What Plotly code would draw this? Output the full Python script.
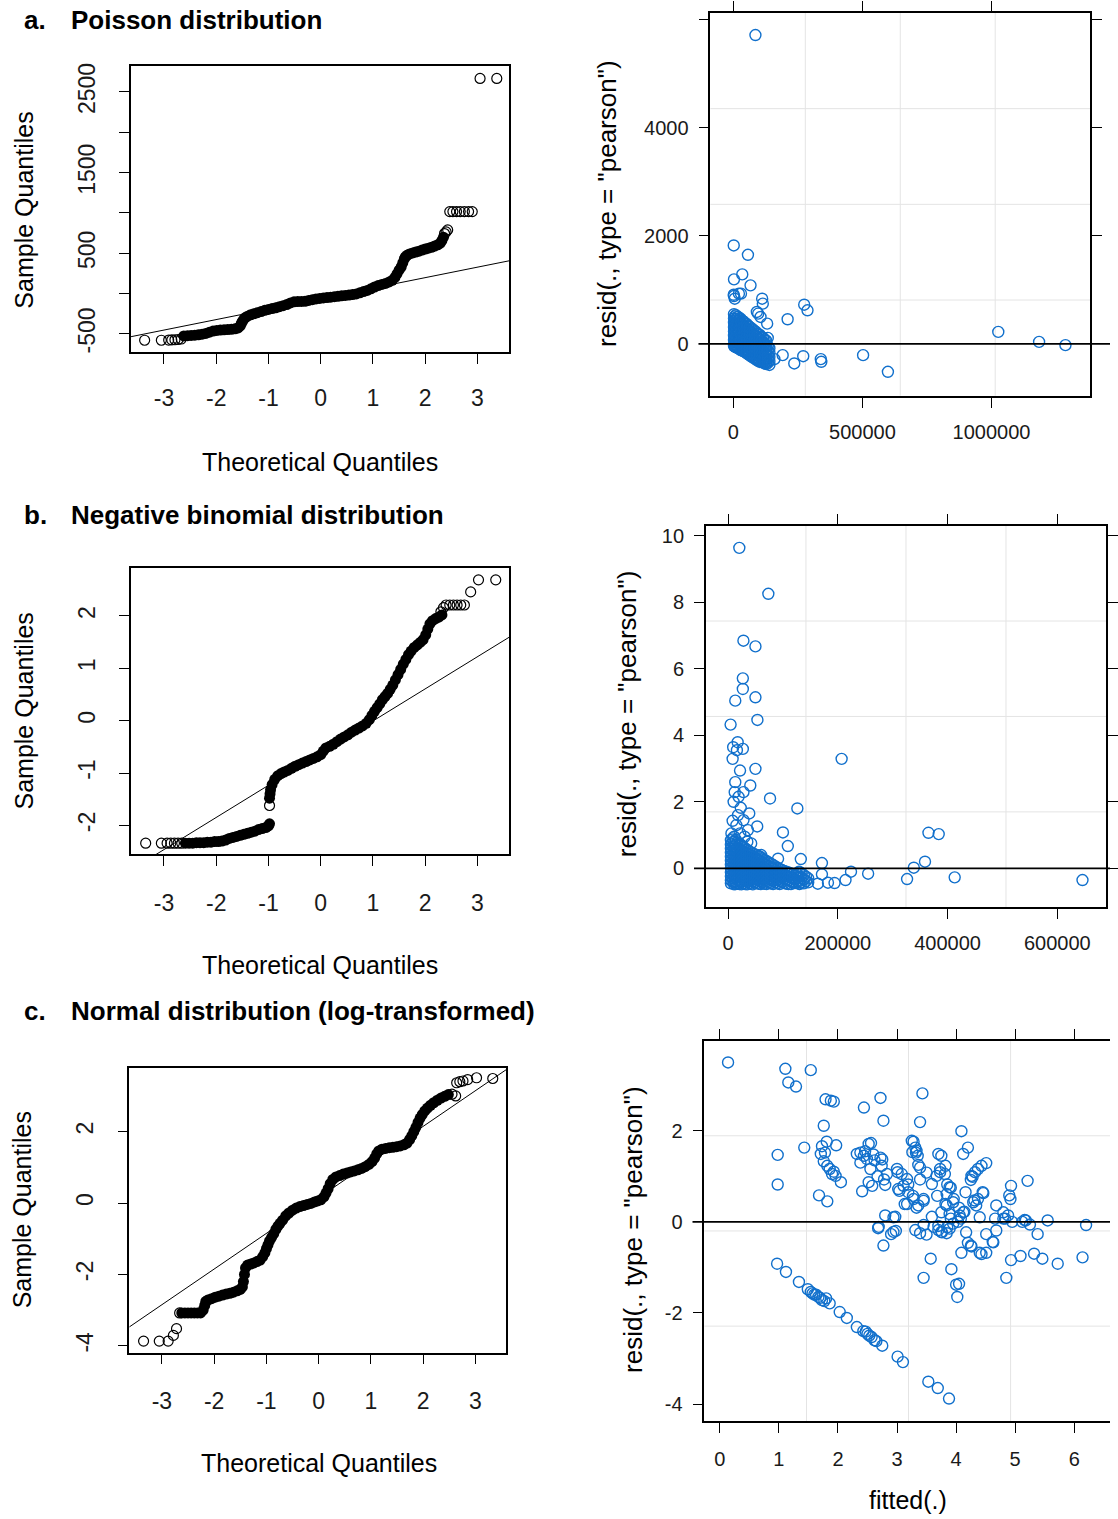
import plotly.graph_objects as go

W, H = 1118, 1519
FONT = "Liberation Sans, Arial, Helvetica, sans-serif"
BLUE = "#1170cc"
INK = "#1a1a1a"

# ======================= DATA =======================
qq_x_ticks = [-3, -2, -1, 0, 1, 2, 3]

# ---- a. Poisson distribution : normal Q-Q plot ----
qq_a_dense_x = [-2.62, -2.55, -2.48, -2.41, -2.34, -2.27, -2.20, -2.13, -2.06, -1.99,
                -1.92, -1.85, -1.78, -1.71, -1.64, -1.58, -1.54, -1.52, -1.50, -1.47,
                -1.44, -1.40, -1.34, -1.28, -1.21, -1.14, -1.07, -1.00, -0.93, -0.86,
                -0.79, -0.72, -0.65, -0.58, -0.51, -0.44, -0.37, -0.30, -0.23, -0.16,
                -0.09, -0.02, 0.05, 0.12, 0.19, 0.26, 0.33, 0.40, 0.47, 0.54,
                0.61, 0.68, 0.75, 0.82, 0.89, 0.96, 1.03, 1.10, 1.17, 1.24,
                1.31, 1.37, 1.42, 1.46, 1.50, 1.54, 1.57, 1.60, 1.62, 1.65,
                1.70, 1.76, 1.82, 1.88, 1.94, 2.00, 2.06, 2.12, 2.18, 2.24,
                2.29, 2.32, 2.35]
qq_a_dense_y = [-525, -522, -519, -516, -510, -503, -494, -478, -464, -456,
                -452, -449, -446, -442, -437, -425, -400, -370, -345, -315,
                -295, -280, -262, -250, -237, -222, -207, -196, -186, -176,
                -162, -150, -136, -115, -102, -99, -97, -95, -85, -75,
                -66, -60, -54, -48, -44, -38, -33, -28, -23, -17,
                -11, -4, 10, 25, 40, 60, 82, 100, 114, 126,
                145, 165, 200, 245, 290, 330, 380, 430, 455, 475,
                492, 505, 516, 526, 540, 552, 563, 575, 590, 605,
                625, 660, 700]
qq_a_sparse = [(-3.37, -578), (-3.05, -578), (-2.91, -576), (-2.85, -574), (-2.79, -572),
               (-2.73, -569), (-2.67, -563), (2.37, 745), (2.40, 765), (2.43, 790),
               (2.47, 1017), (2.53, 1017), (2.60, 1017), (2.67, 1017), (2.75, 1017),
               (2.83, 1017), (2.90, 1017), (3.05, 2668), (3.37, 2668)]
qq_a_line = (-62.0, 130.0)            # intercept, slope of qqline
qq_a_yticks = [-500, 0, 500, 1000, 1500, 2000, 2500]
qq_a_ylabels = ["-500", "", "500", "", "1500", "", "2500"]

# ---- b. Negative binomial distribution : normal Q-Q plot ----
qq_b_dense_x = [-2.59, -2.52, -2.45, -2.38, -2.31, -2.24, -2.17, -2.10, -2.03, -1.96,
                -1.89, -1.82, -1.75, -1.68, -1.61, -1.54, -1.47, -1.40, -1.33, -1.26,
                -1.19, -1.12, -1.05, -1.00, -0.98,
                -0.98, -0.97, -0.96, -0.93, -0.88, -0.82, -0.76, -0.70, -0.63, -0.56,
                -0.49, -0.42, -0.35, -0.28, -0.21, -0.14, -0.07, 0.00, 0.05, 0.10,
                0.17, 0.24, 0.31, 0.38, 0.45, 0.52, 0.59, 0.66, 0.73, 0.80,
                0.87, 0.93, 0.98, 1.03, 1.08, 1.13, 1.18, 1.23, 1.28, 1.33,
                1.38, 1.43, 1.48, 1.53, 1.58, 1.63, 1.68, 1.73, 1.79, 1.85,
                1.91, 1.96, 2.01, 2.05, 2.09, 2.14, 2.20, 2.26, 2.32]
qq_b_dense_y = [-2.34, -2.34, -2.34, -2.33, -2.33, -2.33, -2.32, -2.32, -2.31, -2.31,
                -2.30, -2.28, -2.25, -2.23, -2.21, -2.19, -2.17, -2.15, -2.13, -2.11,
                -2.08, -2.06, -2.04, -2.01, -1.97,
                -1.48, -1.40, -1.32, -1.22, -1.12, -1.05, -1.01, -0.98, -0.95, -0.91,
                -0.87, -0.84, -0.81, -0.78, -0.75, -0.72, -0.69, -0.65, -0.58, -0.52,
                -0.49, -0.45, -0.40, -0.35, -0.31, -0.27, -0.22, -0.18, -0.14, -0.10,
                -0.05, 0.02, 0.10, 0.18, 0.25, 0.32, 0.40, 0.46, 0.52, 0.60,
                0.68, 0.78, 0.88, 0.98, 1.08, 1.17, 1.26, 1.33, 1.40, 1.45,
                1.50, 1.55, 1.64, 1.75, 1.85, 1.91, 1.95, 1.98, 2.02]
qq_b_sparse = [(-3.35, -2.34), (-3.05, -2.34), (-2.94, -2.34), (-2.87, -2.34), (-2.80, -2.34),
               (-2.73, -2.34), (-2.66, -2.34), (-0.98, -1.62), (2.30, 2.08), (2.35, 2.16),
               (2.40, 2.21), (2.47, 2.21), (2.54, 2.21), (2.61, 2.21), (2.68, 2.21),
               (2.75, 2.21), (2.87, 2.46), (3.02, 2.69), (3.35, 2.69)]
qq_b_line = (-0.62, 0.614)
qq_b_yticks = [-2, -1, 0, 1, 2]

# ---- c. Normal distribution (log-transformed) : normal Q-Q plot ----
qq_c_dense_x = [-2.62, -2.56, -2.50, -2.44, -2.38, -2.32, -2.26, -2.21, -2.18, -2.16,
                -2.12, -2.05, -1.98, -1.91, -1.84, -1.77, -1.70, -1.63, -1.56, -1.50,
                -1.46, -1.44, -1.42, -1.40, -1.36, -1.30, -1.24, -1.18, -1.12, -1.07,
                -1.03, -1.00, -0.97, -0.94, -0.90, -0.86, -0.82, -0.78, -0.74, -0.69,
                -0.63, -0.57, -0.50, -0.43, -0.36, -0.29, -0.22, -0.15, -0.08, -0.02,
                0.04, 0.10, 0.14, 0.18, 0.22, 0.27, 0.33, 0.40, 0.47, 0.54,
                0.61, 0.68, 0.75, 0.82, 0.89, 0.96, 1.02, 1.07, 1.11, 1.15,
                1.21, 1.28, 1.35, 1.42, 1.49, 1.56, 1.63, 1.69, 1.74, 1.78,
                1.82, 1.86, 1.90, 1.94, 1.98, 2.03, 2.08, 2.14, 2.20, 2.27,
                2.34, 2.41, 2.48]
qq_c_dense_y = [-3.08, -3.08, -3.08, -3.08, -3.08, -3.08, -3.08, -3.00, -2.87, -2.76,
                -2.72, -2.68, -2.64, -2.61, -2.58, -2.55, -2.53, -2.50, -2.46, -2.42,
                -2.35, -2.20, -2.00, -1.82, -1.74, -1.71, -1.68, -1.64, -1.60, -1.50,
                -1.40, -1.28, -1.17, -1.06, -0.96, -0.86, -0.74, -0.65, -0.57, -0.48,
                -0.36, -0.28, -0.20, -0.14, -0.10, -0.07, -0.04, -0.01, 0.03, 0.06,
                0.09, 0.17, 0.28, 0.40, 0.54, 0.66, 0.73, 0.77, 0.81, 0.84,
                0.87, 0.90, 0.93, 0.97, 1.02, 1.08, 1.16, 1.26, 1.38, 1.46,
                1.51, 1.53, 1.55, 1.56, 1.58, 1.60, 1.63, 1.68, 1.78, 1.88,
                2.00, 2.12, 2.26, 2.38, 2.48, 2.58, 2.66, 2.74, 2.81, 2.88,
                2.94, 2.99, 3.04]
qq_c_sparse = [(-3.35, -3.87), (-3.05, -3.87), (-2.88, -3.87), (-2.78, -3.71), (-2.72, -3.52),
               (-2.66, -3.08), (2.55, 3.05), (2.62, 3.00), (2.64, 3.37), (2.70, 3.40),
               (2.76, 3.42), (2.85, 3.46), (3.02, 3.51), (3.33, 3.49)]
qq_c_line = (0.15, 1.0)
qq_c_yticks = [-4, -2, 0, 2]

# ---- a. Poisson: resid(., type = "pearson") vs fitted ----
res_a_points = [(86000, 5720), (2000, 1823), (57000, 1650), (3000, 1195), (35000, 1287),
                (67000, 1084), (3000, 886), (22000, 929), (6000, 837), (2000, 910),
                (30000, 930), (112000, 837), (114500, 745), (91500, 591), (96500, 560),
                (105700, 499), (274800, 726), (287500, 622), (210600, 456), (131400, 375),
                (133700, 111), (191400, -209), (159500, -283), (236300, -363), (271000, -228),
                (339000, -283), (341000, -332), (502700, -209), (598800, -517),
                (1026000, 222), (1184000, 37), (1286000, -24)]
res_a_cluster = [(3000, [550, 470, 390, 310, 230, 150, 70, -10, -40]),
                 (6500, [510, 430, 350, 270, 190, 110, 30, -45]),
                 (10000, [530, 455, 375, 300, 215, 140, 60, -20, -65]),
                 (14500, [495, 415, 340, 260, 180, 100, 20, -60]),
                 (19000, [500, 425, 350, 265, 190, 105, 30, -50, -85]),
                 (24000, [470, 390, 310, 225, 150, 70, -10, -90]),
                 (29000, [465, 390, 305, 230, 150, 70, -15, -90, -115]),
                 (34500, [430, 350, 270, 190, 110, 30, -50, -125]),
                 (40000, [415, 340, 260, 175, 100, 20, -60, -135]),
                 (46000, [380, 300, 220, 140, 60, -20, -100, -155]),
                 (52000, [370, 290, 205, 130, 45, -30, -110, -170]),
                 (58000, [335, 255, 175, 95, 15, -65, -140, -195]),
                 (64000, [315, 240, 160, 80, 0, -85, -160, -215]),
                 (70500, [285, 205, 125, 45, -35, -115, -190, -235]),
                 (77000, [265, 185, 110, 25, -50, -135, -210, -255]),
                 (83500, [235, 155, 75, -5, -85, -165, -240, -275]),
                 (90000, [215, 140, 55, -20, -105, -180, -260, -295]),
                 (96500, [185, 105, 25, -55, -135, -215, -290, -315]),
                 (103000, [165, 90, 10, -75, -150, -230, -310, -335]),
                 (109500, [130, 50, -30, -110, -190, -270, -330]),
                 (116000, [110, 30, -50, -130, -215, -290, -345]),
                 (122000, [80, 0, -80, -160, -240, -320, -360]),
                 (128000, [60, -20, -105, -180, -265, -340, -375]),
                 (134000, [-40, -120, -200, -280, -350]),
                 (140000, [-80, -160, -245, -320, -390])]
res_a_xticks = [0, 500000, 1000000]
res_a_yticks = [0, 2000, 4000, 6000]
res_a_ylabels = ["0", "2000", "4000", ""]

# ---- b. Negative binomial: resid vs fitted ----
res_b_points = [(20400, 9.63), (73300, 8.25), (27900, 6.84), (49800, 6.67), (26800, 5.71),
                (26800, 5.39), (13000, 5.04), (49800, 5.14), (53400, 4.46), (4500, 4.32),
                (9200, 3.64), (17400, 3.79), (26800, 3.59), (8200, 3.29), (206900, 3.29),
                (21700, 2.94), (49800, 2.99), (13000, 2.59), (40400, 2.49), (27900, 2.29),
                (12000, 2.29), (76400, 2.10), (126200, 1.80), (23000, 1.82), (38500, 1.65),
                (8200, 1.43), (53000, 1.26), (36000, 1.15), (99900, 1.08), (108800, 0.67),
                (365200, 1.07), (383900, 1.03), (358900, 0.20), (338500, 0.02), (326200, -0.32),
                (413000, -0.27), (646000, -0.35), (255200, -0.16), (224000, -0.10), (214000, -0.35),
                (194000, -0.44), (171000, 0.16), (171000, -0.18), (163500, -0.46), (182000, -0.43),
                (132500, 0.28), (129400, -0.10), (91000, 0.29), (60300, 0.40), (114600, -0.47),
                (129600, -0.45), (16000, 3.55), (6000, 1.05), (15000, 1.30), (22000, 1.05),
                (30000, 0.95), (18000, 1.60), (35000, 0.80), (28000, 1.45), (42000, 0.75),
                (10000, 2.00), (19000, 2.15)]
res_b_cluster = [(5000, [0.85, 0.72, 0.60, 0.48, 0.36, 0.24, 0.12, 0.00, -0.12, -0.24, -0.36, -0.45]),
                 (8000, [0.90, 0.78, 0.66, 0.54, 0.42, 0.30, 0.18, 0.06, -0.06, -0.18, -0.30, -0.40]),
                 (11000, [0.95, 0.80, 0.66, 0.54, 0.42, 0.30, 0.18, 0.06, -0.06, -0.18, -0.30, -0.42, -0.48]),
                 (14000, [0.86, 0.70, 0.56, 0.44, 0.32, 0.20, 0.08, -0.04, -0.16, -0.28, -0.40, -0.47]),
                 (17000, [0.78, 0.62, 0.50, 0.38, 0.26, 0.14, 0.02, -0.10, -0.22, -0.34, -0.46]),
                 (20500, [0.74, 0.58, 0.46, 0.34, 0.22, 0.10, -0.02, -0.14, -0.26, -0.38, -0.47]),
                 (24000, [0.70, 0.55, 0.44, 0.32, 0.20, 0.08, -0.04, -0.16, -0.28, -0.40, -0.48]),
                 (27500, [0.65, 0.50, 0.38, 0.26, 0.14, 0.02, -0.10, -0.22, -0.34, -0.45]),
                 (31000, [0.60, 0.47, 0.35, 0.23, 0.11, -0.01, -0.13, -0.25, -0.37, -0.47]),
                 (34500, [0.56, 0.44, 0.32, 0.20, 0.08, -0.04, -0.16, -0.28, -0.40, -0.48]),
                 (38000, [0.52, 0.40, 0.28, 0.16, 0.04, -0.08, -0.20, -0.32, -0.44]),
                 (41500, [0.48, 0.36, 0.24, 0.12, 0.00, -0.12, -0.24, -0.36, -0.46]),
                 (45000, [0.45, 0.33, 0.21, 0.09, -0.03, -0.15, -0.27, -0.39, -0.48]),
                 (48500, [0.42, 0.30, 0.18, 0.06, -0.06, -0.18, -0.30, -0.42]),
                 (52000, [0.40, 0.28, 0.16, 0.04, -0.08, -0.20, -0.32, -0.44]),
                 (55500, [0.37, 0.25, 0.13, 0.01, -0.11, -0.23, -0.35, -0.46]),
                 (59000, [0.34, 0.22, 0.10, -0.02, -0.14, -0.26, -0.38, -0.47]),
                 (62500, [0.30, 0.18, 0.06, -0.06, -0.18, -0.30, -0.42]),
                 (66000, [0.25, 0.13, 0.01, -0.11, -0.23, -0.35, -0.46]),
                 (70000, [0.22, 0.10, -0.02, -0.14, -0.26, -0.38, -0.47]),
                 (74000, [0.18, 0.06, -0.06, -0.18, -0.30, -0.42]),
                 (78000, [0.14, 0.02, -0.10, -0.22, -0.34, -0.45]),
                 (82000, [0.10, -0.02, -0.14, -0.26, -0.38, -0.47]),
                 (86000, [0.06, -0.06, -0.18, -0.30, -0.42]),
                 (90000, [0.02, -0.10, -0.22, -0.34, -0.45]),
                 (94000, [-0.02, -0.14, -0.26, -0.38, -0.47]),
                 (98000, [-0.05, -0.17, -0.29, -0.41]),
                 (102000, [-0.08, -0.20, -0.32, -0.44]),
                 (106000, [-0.10, -0.22, -0.34, -0.46]),
                 (110000, [-0.12, -0.24, -0.36, -0.47]),
                 (114000, [-0.15, -0.27, -0.39]),
                 (118000, [-0.18, -0.30, -0.42]),
                 (122000, [-0.20, -0.32, -0.44]),
                 (126000, [-0.16, -0.28, -0.40]),
                 (130000, [-0.12, -0.25, -0.38, -0.47]),
                 (134000, [-0.16, -0.29, -0.42]),
                 (138000, [-0.20, -0.33, -0.45]),
                 (142000, [-0.25, -0.38]),
                 (146000, [-0.30, -0.42])]
res_b_xticks = [0, 200000, 400000, 600000]
res_b_yticks = [0, 2, 4, 6, 8, 10]

# ---- c. Normal (log): resid vs fitted ----
res_c_points = [
    (0.14, 3.50), (1.11, 3.36), (1.54, 3.33), (1.16, 3.06), (1.29, 2.97), (1.79, 2.69), (1.88, 2.66),
    (1.93, 2.64), (1.76, 2.11), (1.43, 1.63), (0.98, 1.47), (0.98, 0.82),
    (1.71, 1.49), (1.78, 1.52), (1.81, 1.76), (1.73, 1.66), (1.97, 1.68), (1.82, 1.23), (1.86, 1.16),
    (1.90, 1.05), (1.96, 1.01), (2.05, 0.87), (1.68, 0.58), (1.82, 0.45), (1.76, 1.33), (1.93, 1.10),
    (2.44, 2.51), (2.72, 2.72), (2.77, 2.22), (2.32, 1.49), (2.38, 1.52), (2.44, 1.45), (2.52, 1.71),
    (2.49, 1.38), (2.72, 1.41), (2.74, 1.23), (2.38, 1.30), (2.55, 1.16), (2.52, 0.87), (2.41, 0.67),
    (2.58, 0.79), (2.83, 1.05), (2.80, 0.81), (2.56, 1.73), (2.46, 1.55), (2.62, 1.35), (2.67, 1.00),
    (2.60, 1.48), (2.75, 1.37), (2.78, 0.93), (3.01, 1.09), (3.04, 0.68), (3.13, 0.39), (2.80, 0.14),
    (2.97, 0.11), (2.68, -0.14), (2.90, -0.27), (2.98, -0.20), (2.77, -0.52), (2.94, -0.22),
    (2.69, -0.11), (2.94, 0.10),
    (3.43, 2.82), (3.39, 2.19), (3.28, 1.76), (3.25, 1.78), (3.31, 1.63), (3.32, 1.52), (3.35, 1.45),
    (3.33, 1.56), (3.26, 1.53), (3.00, 1.16), (3.08, 1.05), (3.17, 0.94), (3.02, 0.72), (3.11, 0.79),
    (3.19, 0.65), (3.28, 0.50), (3.17, 0.39), (3.36, 0.36), (3.45, 0.50), (3.39, 1.19), (3.50, 1.08),
    (3.36, 1.25), (3.39, 0.93), (3.19, 0.82), (3.27, 0.57), (3.33, 0.31), (3.45, 0.46), (3.31, -0.18),
    (3.39, -0.25), (3.50, -0.28), (3.45, -0.07), (3.57, -0.81), (3.45, -1.23),
    (3.59, 0.83), (3.67, 1.01), (3.70, 1.49), (3.75, 1.45), (3.73, 1.16), (3.81, 1.05), (3.89, 0.76),
    (3.84, 0.61), (3.95, 0.43), (3.84, 0.36), (3.75, 0.21), (3.89, 0.17), (4.06, 0.14), (4.12, 0.21),
    (3.73, 1.09), (3.82, 1.23), (3.85, 0.82), (3.91, 0.75), (3.68, 0.57), (3.82, 0.39), (3.96, 0.50),
    (3.59, 0.11), (3.70, -0.09), (3.76, -0.23), (3.85, -0.12), (3.91, 0.07), (3.62, -0.11),
    (3.70, -0.18), (3.75, -0.22), (3.84, -0.25), (3.89, -0.15), (3.95, -0.04), (4.03, 0.00),
    (3.92, -1.04), (4.00, -1.38), (4.05, -1.36), (4.02, -1.65),
    (4.09, 1.99), (4.12, 1.49), (4.20, 1.63), (4.16, 0.65), (4.29, 0.43), (4.34, 0.36), (4.40, 0.10),
    (4.26, 1.01), (4.32, 1.09), (4.37, 1.16), (4.43, 1.23), (4.51, 1.29), (4.45, 0.65), (4.08, 0.07),
    (4.14, 0.22), (4.05, 0.31), (4.28, 0.99), (4.25, 0.92), (4.31, 0.47), (4.46, 0.63), (4.37, 0.50),
    (4.17, -0.23), (4.25, -0.52), (4.51, -0.27), (4.20, -0.46), (4.26, -0.54), (4.40, -0.68),
    (4.51, -0.68), (4.62, -0.44), (4.43, -0.71), (4.09, -0.68),
    (4.68, 0.36), (4.80, 0.21), (4.88, 0.14), (4.93, 0.79), (4.90, 0.58), (4.66, 0.07), (4.83, 0.07),
    (4.92, 0.50), (4.95, 0.00), (5.12, 0.00), (5.18, 0.03), (5.25, -0.06), (5.21, 0.90), (5.55, 0.03),
    (5.38, -0.27), (4.68, -0.19), (4.63, -0.45), (4.85, -1.23), (4.93, -0.84), (5.09, -0.75),
    (5.32, -0.70), (5.46, -0.81), (5.72, -0.92), (4.80, 0.07), (5.16, 0.04),
    (6.14, -0.78), (6.20, -0.07),
    (0.97, -0.92), (1.12, -1.10), (1.34, -1.32), (1.49, -1.48), (1.54, -1.54), (1.57, -1.57),
    (1.60, -1.60), (1.63, -1.60), (1.67, -1.65), (1.70, -1.67), (1.73, -1.72), (1.77, -1.74),
    (1.80, -1.68), (1.86, -1.79), (2.03, -1.98), (2.15, -2.11), (2.32, -2.31), (2.43, -2.40),
    (2.47, -2.41), (2.50, -2.46), (2.53, -2.50), (2.57, -2.53), (2.62, -2.60), (2.65, -2.62),
    (2.75, -2.72), (3.01, -2.96), (3.10, -3.08), (3.53, -3.51), (3.69, -3.65), (3.88, -3.88)]
res_c_xticks = [0, 1, 2, 3, 4, 5, 6]
res_c_yticks = [-4, -2, 0, 2]
res_c_panel_xlim = [-0.26, 6.65]   # full lattice panel limits (right edge cut off)

# ======================= LAYOUT GEOMETRY (pixels) =======================
def fx(p):
    return p / W


def fy(p):
    return 1 - p / H


panels = {
    1: dict(x=[fx(132), fx(513)], y=[fy(350), fy(63.3)], xr=[-3.63, 3.61], yr=[-722, 2821]),
    2: dict(x=[fx(715.5), fx(1098)], y=[fy(394), fy(10)], xr=[-88400, 1381600], yr=[-960, 6129]),
    3: dict(x=[fx(132), fx(513)], y=[fy(854), fy(566.7)], xr=[-3.63, 3.61], yr=[-2.55, 2.92]),
    4: dict(x=[fx(711), fx(1114)], y=[fy(907.3), fy(524.3)], xr=[-40500, 688900], yr=[-1.17, 10.30]),
    5: dict(x=[fx(130.4), fx(510)], y=[fy(1354), fy(1068.3)], xr=[-3.62, 3.59], yr=[-4.19, 3.79]),
    6: dict(x=[fx(709.5), 1.0], y=[fy(1423), fy(1041)], xr=[-0.26, 6.605], yr=[-4.38, 3.98]),
}

fig = go.Figure()


def ax_name(letter, i):
    return letter + ("" if i == 1 else str(i))


def add_qq(i, dx, dy, sparse, line):
    xa, ya = ax_name("x", i), ax_name("y", i)
    fig.add_trace(go.Scatter(x=dx, y=dy, mode="markers", xaxis=xa, yaxis=ya,
                             marker=dict(symbol="circle", size=11, color="black",
                                         line=dict(width=0))))
    fig.add_trace(go.Scatter(x=[p[0] for p in sparse], y=[p[1] for p in sparse],
                             mode="markers", xaxis=xa, yaxis=ya,
                             marker=dict(symbol="circle-open", size=10, color="black",
                                         line=dict(width=1.2))))
    a, b = line
    xs = [-5, 5]
    fig.add_trace(go.Scatter(x=xs, y=[a + b * v for v in xs], mode="lines", xaxis=xa, yaxis=ya,
                             line=dict(color="black", width=1)))


def add_resid(i, points, cluster):
    xa, ya = ax_name("x", i), ax_name("y", i)
    xs, ys = [], []
    for cx, col in cluster:
        for v in col:
            xs.append(cx)
            ys.append(v)
    xs += [p[0] for p in points]
    ys += [p[1] for p in points]
    fig.add_trace(go.Scatter(x=xs, y=ys, mode="markers", xaxis=xa, yaxis=ya,
                             marker=dict(symbol="circle-open", size=11, color=BLUE,
                                         line=dict(width=1.4))))


add_qq(1, qq_a_dense_x, qq_a_dense_y, qq_a_sparse, qq_a_line)
add_qq(3, qq_b_dense_x, qq_b_dense_y, qq_b_sparse, qq_b_line)
add_qq(5, qq_c_dense_x, qq_c_dense_y, qq_c_sparse, qq_c_line)
add_resid(2, res_a_points, res_a_cluster)
add_resid(4, res_b_points, res_b_cluster)
add_resid(6, res_c_points, [])


def axis(i, letter, tickvals, ticktext, size, standoff, angle=0, mirror=True):
    p = panels[i]
    other = "y" if letter == "x" else "x"
    return dict(domain=p[letter], range=p[letter + "r"], anchor=ax_name(other, i),
                showgrid=False, zeroline=False, showline=True, linecolor="black",
                linewidth=1.6, mirror=mirror, ticks="outside", ticklen=10, tickwidth=1.4,
                tickcolor="black", tickmode="array", tickvals=tickvals, ticktext=ticktext,
                tickangle=angle, tickfont=dict(family=FONT, size=size, color=INK),
                ticklabelstandoff=standoff, fixedrange=True)


lab = lambda vals: [str(v) for v in vals]
layout_axes = {
    "xaxis": axis(1, "x", qq_x_ticks, lab(qq_x_ticks), 23, 15),
    "yaxis": axis(1, "y", qq_a_yticks, qq_a_ylabels, 23, 15, angle=-90),
    "xaxis3": axis(3, "x", qq_x_ticks, lab(qq_x_ticks), 23, 17),
    "yaxis3": axis(3, "y", qq_b_yticks, lab(qq_b_yticks), 23, 15, angle=-90),
    "xaxis5": axis(5, "x", qq_x_ticks, lab(qq_x_ticks), 23, 17),
    "yaxis5": axis(5, "y", qq_c_yticks, lab(qq_c_yticks), 23, 15, angle=-90),
    "xaxis2": axis(2, "x", res_a_xticks, lab(res_a_xticks), 20, 7, mirror="ticks"),
    "yaxis2": axis(2, "y", res_a_yticks, res_a_ylabels, 20, 6, mirror="ticks"),
    "xaxis4": axis(4, "x", res_b_xticks, lab(res_b_xticks), 20, 7, mirror="ticks"),
    "yaxis4": axis(4, "y", res_b_yticks, lab(res_b_yticks), 20, 6, mirror="ticks"),
    "xaxis6": axis(6, "x", res_c_xticks, lab(res_c_xticks), 20, 9, mirror="ticks"),
    "yaxis6": axis(6, "y", res_c_yticks, lab(res_c_yticks), 20, 6, mirror=False),
}

# lattice panel.grid(h = 3, v = 3): three light lines splitting each panel in quarters
shapes = []
for i in (2, 4, 6):
    p = panels[i]
    if i == 6:
        lo, hi = res_c_panel_xlim
        r0, r1 = p["xr"]
        vfr = [((lo + k * (hi - lo) / 4) - r0) / (r1 - r0) for k in (1, 2, 3)]
    else:
        vfr = [0.25, 0.5, 0.75]
    for f in vfr:
        shapes.append(dict(type="line", xref=ax_name("x", i) + " domain", yref=ax_name("y", i) + " domain",
                           x0=f, x1=f, y0=0, y1=1, layer="below",
                           line=dict(color="#e4e4e4", width=1)))
    for f in (0.25, 0.5, 0.75):
        shapes.append(dict(type="line", xref=ax_name("x", i) + " domain", yref=ax_name("y", i) + " domain",
                           x0=0, x1=1, y0=f, y1=f, layer="below",
                           line=dict(color="#e4e4e4", width=1)))
    # horizontal reference line at 0 (panel.abline(h = 0)), drawn past the panel edges
    dom = p["x"]
    wpx = (dom[1] - dom[0]) * W
    shapes.append(dict(type="line", xref=ax_name("x", i) + " domain", yref=ax_name("y", i),
                       x0=-12 / wpx, x1=(W - dom[0] * W) / wpx, y0=0, y1=0, layer="above",
                       line=dict(color="black", width=1.6)))

annotations = []


def text(x, y, s, size, bold=False, angle=0, xanchor="center"):
    annotations.append(dict(x=fx(x), y=fy(y), xref="paper", yref="paper", text=("<b>%s</b>" % s) if bold else s,
                            showarrow=False, textangle=angle, xanchor=xanchor, yanchor="middle",
                            font=dict(family=FONT, size=size, color="black")))


for (yy, letter, title) in [(17, "a.", "Poisson distribution"),
                            (514, "b.", "Negative binomial distribution"),
                            (1011, "c.", "Normal distribution (log-transformed)")]:
    text(22, yy, letter, 26, bold=True, xanchor="left")
    text(69, yy, title, 26, bold=True, xanchor="left")

for (sx, sy, tx, ty) in [(24, 207.5, 322, 461), (24, 710, 322, 965), (22.5, 1211, 321, 1465)]:
    text(sx, sy, "Sample Quantiles", 25, angle=-90)
    text(tx, ty, "Theoretical Quantiles", 25)

for (rx, ry) in [(612, 201), (631.5, 712.5), (637.5, 1230)]:
    text(rx, ry, 'resid(., type = "pearson")', 26, angle=-90)
text(914.7, 1501.7, "fitted(.)", 25)

fig.update_layout(width=W, height=H, margin=dict(l=0, r=0, t=0, b=0),
                  paper_bgcolor="white", plot_bgcolor="white", showlegend=False,
                  shapes=shapes, annotations=annotations, **layout_axes)

fig.write_html("out.html")
